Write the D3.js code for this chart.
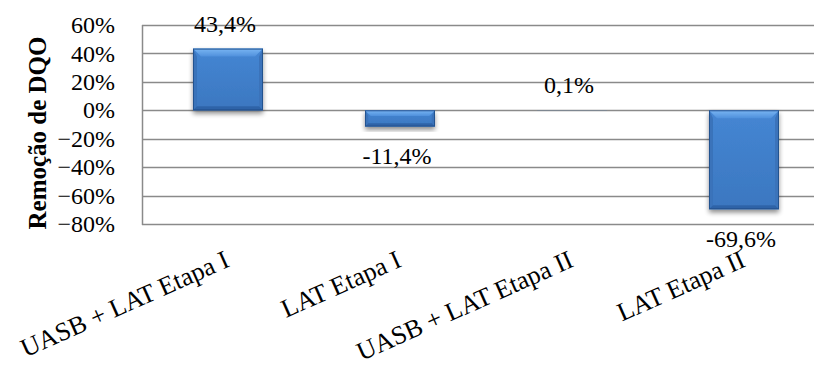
<!DOCTYPE html>
<html>
<head>
<meta charset="utf-8">
<script src="https://cdn.jsdelivr.net/npm/d3@7/dist/d3.min.js"></script>
<style>
  html, body { margin: 0; padding: 0; background: #fff; }
  svg { display: block; }
  text { font-family: "Liberation Serif", "Times New Roman", serif; fill: #000; }
</style>
</head>
<body>
<svg id="chart" width="814" height="367"></svg>
<script>
// Remoção de DQO por sistema/etapa
const categories = ["UASB + LAT Etapa I", "LAT Etapa I", "UASB + LAT Etapa II", "LAT Etapa II"];
const values = [0.434, -0.114, 0.001, -0.696];
const valueLabels = ["43,4%", "-11,4%", "0,1%", "-69,6%"];
const yTicks = [0.6, 0.4, 0.2, 0, -0.2, -0.4, -0.6, -0.8];
const yTitle = "Remoção de DQO";

const svg = d3.select("#chart");
const W = 814, H = 367;
const plot = { left: 142, right: 830, top: 25, bottom: 224 };

const x = d3.scaleBand()
  .domain(categories)
  .range([plot.left, plot.right])
  .paddingInner(0.593)
  .paddingOuter(0.2965);

const y = d3.scaleLinear().domain([-0.8, 0.6]).range([plot.bottom, plot.top]);

const defs = svg.append("defs");
const shadow = defs.append("filter").attr("id", "shadow")
  .attr("x", "-20%").attr("y", "-20%").attr("width", "140%").attr("height", "150%");
shadow.append("feGaussianBlur").attr("in", "SourceAlpha").attr("stdDeviation", 2.5).attr("result", "b");
shadow.append("feOffset").attr("in", "b").attr("dx", 0).attr("dy", 3).attr("result", "o");
shadow.append("feComponentTransfer").attr("in", "o").attr("result", "s")
  .append("feFuncA").attr("type", "linear").attr("slope", 0.45);
const merge = shadow.append("feMerge");
merge.append("feMergeNode").attr("in", "s");
merge.append("feMergeNode").attr("in", "SourceGraphic");

const bodyGrad = defs.append("linearGradient").attr("id", "body")
  .attr("x1", 0).attr("y1", 0).attr("x2", 0).attr("y2", 1);
bodyGrad.append("stop").attr("offset", "0%").attr("stop-color", "#4586d3");
bodyGrad.append("stop").attr("offset", "100%").attr("stop-color", "#3b77c0");

const topGrad = defs.append("linearGradient").attr("id", "bevelTop")
  .attr("x1", 0).attr("y1", 0).attr("x2", 0).attr("y2", 1);
topGrad.append("stop").attr("offset", "0%").attr("stop-color", "#7ab6f3");
topGrad.append("stop").attr("offset", "100%").attr("stop-color", "#4f90dc");

// Gridlines
const grid = svg.append("g");
grid.selectAll("line").data(yTicks).join("line")
  .attr("x1", plot.left).attr("x2", W)
  .attr("y1", d => Math.round(y(d)) + 0.5).attr("y2", d => Math.round(y(d)) + 0.5)
  .attr("stroke", "#8a8a8a").attr("stroke-width", 1.5);
grid.append("line")
  .attr("x1", plot.left + 0.5).attr("x2", plot.left + 0.5)
  .attr("y1", y(0.6)).attr("y2", y(-0.8) + 1)
  .attr("stroke", "#8a8a8a").attr("stroke-width", 1.5);

// Y axis labels
const yAxis = d3.axisLeft(y).tickValues(yTicks).tickSize(0).tickPadding(0)
  .tickFormat(d => d3.format(".0f")(d * 100) + "%");
const yg = svg.append("g").attr("transform", `translate(115,0)`).call(yAxis);
yg.select(".domain").remove();
yg.selectAll("text")
  .attr("font-size", 24)
  .style("font-family", '"Liberation Serif", serif')
  .attr("dy", "0.32em");

svg.append("text")
  .attr("transform", "translate(46,133) rotate(-90)")
  .attr("text-anchor", "middle")
  .attr("font-size", 25).attr("font-weight", "bold")
  .text(yTitle);

// Bars with bevel
const bars = svg.append("g").selectAll("g.bar").data(categories.map((c, i) => ({ c, v: values[i] })))
  .join("g").attr("class", "bar").attr("filter", "url(#shadow)");

bars.each(function (d) {
  const g = d3.select(this);
  const x0 = x(d.c), w = x.bandwidth();
  const yTop = Math.min(y(0), y(d.v)), yBot = Math.max(y(0), y(d.v));
  const h = yBot - yTop;
  g.append("rect").attr("x", x0).attr("y", yTop).attr("width", w).attr("height", h)
    .attr("fill", "url(#body)");
  if (h > 3) {
    const bt = Math.min(8, h * 0.35), bs = Math.min(4, h * 0.2), bb = Math.min(4, h * 0.2);
    const x1 = x0 + w;
    g.append("polygon").attr("fill", "url(#bevelTop)")
      .attr("points", [[x0, yTop], [x1, yTop], [x1 - bt, yTop + bt], [x0 + bt, yTop + bt]].join(" "));
    g.append("polygon").attr("fill", "#3a73ba")
      .attr("points", [[x0, yTop], [x0 + bs, yTop + bt], [x0 + bs, yBot - bb], [x0, yBot]].join(" "));
    g.append("polygon").attr("fill", "#3a73ba")
      .attr("points", [[x1, yTop], [x1 - bs, yTop + bt], [x1 - bs, yBot - bb], [x1, yBot]].join(" "));
    g.append("polygon").attr("fill", "#2f64a8")
      .attr("points", [[x0, yBot], [x0 + bs, yBot - bb], [x1 - bs, yBot - bb], [x1, yBot]].join(" "));
    g.append("rect").attr("x", x0 + 0.5).attr("y", yTop + 0.5).attr("width", w - 1).attr("height", h - 1)
      .attr("fill", "none").attr("stroke", "#24528f").attr("stroke-width", 1);
  }
});

// Value labels
svg.append("g").selectAll("text").data(categories.map((c, i) => ({ c, v: values[i], t: valueLabels[i] })))
  .join("text")
  .attr("x", d => x(d.c) + x.bandwidth() / 2 - 3)
  .attr("y", d => d.v >= 0 ? y(d.v) - 17 : y(d.v) + 38)
  .attr("text-anchor", "middle")
  .attr("font-size", 24)
  .text(d => d.t);

// Category labels
svg.append("g").selectAll("text").data(categories).join("text")
  .attr("transform", d => `translate(${x(d) + x.bandwidth() / 2 + 3},266) rotate(-24)`)
  .attr("text-anchor", "end")
  .attr("font-size", 26)
  .text(d => d);
</script>
</body>
</html>
